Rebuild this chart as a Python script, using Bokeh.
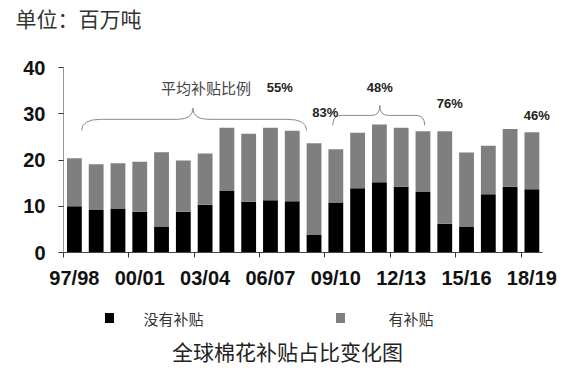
from bokeh.plotting import figure
from bokeh.layouts import column
from bokeh.models import FixedTicker, ColumnDataSource, Title
from bokeh.embed import file_html
from bokeh.resources import INLINE
from bokeh.core.properties import value

# ---- data ----
seasons = ["97/98", "98/99", "99/00", "00/01", "01/02", "02/03", "03/04", "04/05",
           "05/06", "06/07", "07/08", "08/09", "09/10", "10/11", "11/12", "12/13",
           "13/14", "14/15", "15/16", "16/17", "17/18", "18/19"]
no_subsidy = [10.0, 9.2, 9.5, 8.8, 5.6, 8.8, 10.3, 13.4, 11.0, 11.3, 11.1,
              3.9, 10.8, 13.9, 15.2, 14.2, 13.1, 6.2, 5.5, 12.6, 14.2, 13.7]
with_subsidy = [10.4, 9.9, 9.8, 10.8, 16.1, 11.1, 11.1, 13.6, 14.7, 15.7, 15.2,
                19.7, 11.5, 12.0, 12.5, 12.8, 13.1, 20.0, 16.1, 10.5, 12.5, 12.3]
series_names = ["没有补贴", "有补贴"]
series_colors = ["#000000", "#7f7f7f"]
y_ticks = [0, 10, 20, 30, 40]
label_every = 3
pct_labels = ["55%", "83%", "48%", "76%", "46%"]
bracket_caption = "平均补贴比例"
unit_text = "单位：百万吨"
chart_title = "全球棉花补贴占比变化图"

CJK = "Noto Sans CJK SC"
NUM = "Liberation Sans"
W = 571
LEFT, RIGHT = 63, 20

# ---- main chart ----
idx = list(range(1, len(seasons) + 1))
src = ColumnDataSource(dict(x=idx, season=seasons, a=no_subsidy, b=with_subsidy))
n = len(seasons)
p = figure(width=W, height=295, output_backend="svg", toolbar_location=None,
           x_range=(0.5, n + 0.9), y_range=(0, 40),
           min_border_left=LEFT, min_border_top=67, min_border_bottom=43,
           min_border_right=RIGHT)
p.outline_line_color = None
p.grid.grid_line_color = None

# spacer (nearest the frame) then the unit caption above it
p.add_layout(Title(text=" ", text_font_size="1px", standoff=32), "above")
p.add_layout(Title(text=unit_text, align="left", offset=-48, vertical_align="bottom",
                   standoff=0, text_font=CJK, text_font_size="21px",
                   text_font_style="normal", text_color="#333333"), "above")

r = p.vbar_stack(["a", "b"], x="x", width=0.68, fill_color=series_colors,
                 line_color=None, source=src)

major = idx[::label_every]
p.xaxis.bounds = (0.5, n + 0.5)
p.xaxis.ticker = FixedTicker(ticks=major, minor_ticks=[m - 0.5 for m in major])
p.xaxis.major_label_overrides = {m: seasons[m - 1] for m in major}
p.xaxis.major_tick_line_color = None
p.xaxis.major_tick_out = 0
p.xaxis.major_tick_in = 0
p.xaxis.minor_tick_out = 5
p.xaxis.minor_tick_in = 0
p.xaxis.minor_tick_line_color = "#333333"
p.xaxis.axis_line_color = "#444444"
p.xaxis.major_label_standoff = 9
p.xaxis.major_label_text_font = NUM
p.xaxis.major_label_text_font_style = "bold"
p.xaxis.major_label_text_font_size = "20px"
p.xaxis.major_label_text_color = "#111111"

p.yaxis.ticker = FixedTicker(ticks=y_ticks)
p.yaxis.minor_tick_line_color = None
p.yaxis.major_tick_out = 5
p.yaxis.major_tick_in = 0
p.yaxis.major_tick_line_color = "#333333"
p.yaxis.axis_line_color = "#999999"
p.yaxis.major_label_standoff = 13
p.yaxis.major_label_text_font = NUM
p.yaxis.major_label_text_font_style = "bold"
p.yaxis.major_label_text_font_size = "20px"
p.yaxis.major_label_text_color = "#111111"


def brace(x0, x1, xm, ye, yl, yt, a, b):
    q = dict(x0=[x0, xm - b, xm, x1 - a], y0=[ye, yl, yt, yl],
             x1=[x0 + a, xm, xm + b, x1], y1=[yl, yt, yl, ye],
             cx=[x0, xm, xm, x1], cy=[yl, yl, yl, yl])
    s = dict(x0=[x0 + a, xm + b], y0=[yl, yl], x1=[xm - b, x1 - a], y1=[yl, yl])
    return q, s


for args in [(1.33, 11.66, 6.44, 26.4, 28.8, 31.2, 0.9, 0.7),
             (12.86, 17.08, 15.02, 27.5, 29.65, 31.8, 0.4, 0.35)]:
    q, s = brace(*args)
    p.quadratic(source=ColumnDataSource(q), x0="x0", y0="y0", x1="x1", y1="y1",
                cx="cx", cy="cy", line_color="#8a8a8a", line_width=1)
    p.segment(source=ColumnDataSource(s), x0="x0", y0="y0", x1="x1", y1="y1",
              line_color="#8a8a8a", line_width=1)

pct_pos_x = [10.43, 12.52, 15.02, 18.23, 22.22]
pct_pos_y = [35.7, 30.3, 35.7, 32.25, 29.65]
p.text(x=pct_pos_x, y=pct_pos_y, text=pct_labels, text_align="center",
       text_baseline="middle", text_font=value(NUM), text_font_style="bold",
       text_font_size="13px", text_color="#222222")
p.text(x=[7.04], y=[35.7], text=[bracket_caption], text_align="center",
       text_baseline="middle", text_font=value(CJK), text_font_size="15px",
       text_color="#444444")

# ---- bottom strip: legend + title (frame spans page x 63..551, y 295..366) ----
BH = 71
bot = figure(width=W, height=BH, output_backend="svg", toolbar_location=None,
             x_range=(LEFT, W - RIGHT), y_range=(0, BH),
             x_axis_type=None, y_axis_type=None,
             min_border_left=LEFT, min_border_right=RIGHT,
             min_border_top=0, min_border_bottom=0)
bot.outline_line_color = None
bot.grid.grid_line_color = None

key_x = [109, 340]
label_x = [143, 388]
bot.rect(x=key_x, y=[48.5, 48.5], width=9, height=10, fill_color=series_colors,
         line_color=None)
bot.text(x=label_x, y=[48, 48], text=series_names, text_align="left",
         text_baseline="middle", text_font=value(CJK), text_font_size="15px",
         text_color="#333333")
bot.text(x=[287], y=[16], text=[chart_title], text_align="center",
         text_baseline="middle", text_font=value(CJK), text_font_size="21px",
         text_color="#222222")

layout = column(p, bot, spacing=0)
open("out.html", "w").write(file_html(layout, INLINE))
